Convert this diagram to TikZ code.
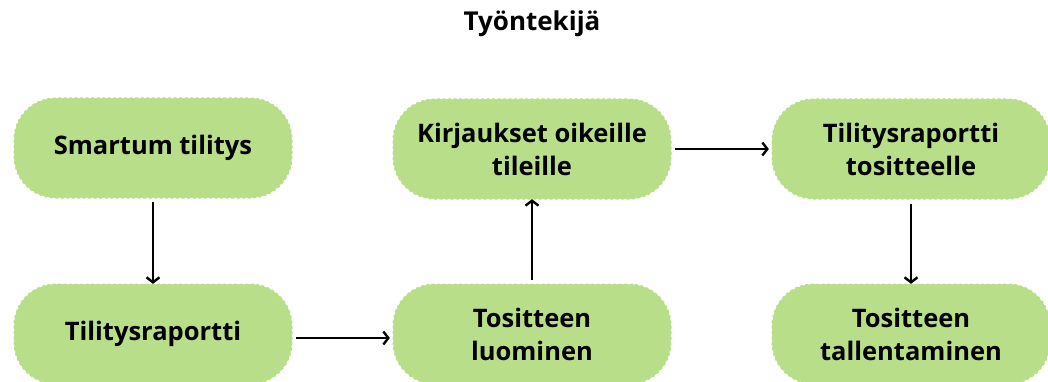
\documentclass[tikz,border=0pt]{standalone}
\usepackage{fontspec}
\setmainfont{Open Sans}
\usetikzlibrary{arrows.meta}
\definecolor{boxgreen}{RGB}{185,222,138}
\begin{document}
\begin{tikzpicture}[x=1pt,y=-1pt,
  stepbox/.style={rectangle, rounded corners=42pt, fill=boxgreen, draw=white, line width=1.3pt,
    dash pattern=on 2.5pt off 3pt, minimum width=279pt, minimum height=101pt,
    align=center, font=\bfseries\fontsize{25.5}{33}\selectfont, text=black, inner sep=0pt},
  conn/.style={-{Straight Barb[length=5pt,width=13pt,line width=2.4pt]}, line width=2.4pt, black}]
\useasboundingbox (0,0) rectangle (1048,382);
\node[font=\bfseries\fontsize{26}{30}\selectfont] (title) at (532,24) {Työntekijä};
\node[stepbox] (a) at (153,148) {Smartum tilitys};
\node[stepbox] (b) at (153,334) {Tilitysraportti};
\node[stepbox] (c) at (532,149) {Kirjaukset oikeille\\tileille};
\node[stepbox] (d) at (532,334) {Tositteen\\luominen};
\node[stepbox] (e) at (911,149) {Tilitysraportti\\tositteelle};
\node[stepbox] (f) at (911,334) {Tositteen\\tallentaminen};
\draw[conn] ([yshift=-3pt]a.south) -- ([yshift=-1pt]b.north);
\draw[conn] ([xshift=3pt,yshift=-4pt]b.east) -- ([xshift=-2pt,yshift=-4pt]d.west);
\draw[conn] ([yshift=3pt]d.north) -- ([yshift=1pt]c.south);
\draw[conn] ([xshift=3pt]c.east) -- ([xshift=-2pt]e.west);
\draw[conn] ([yshift=-4pt]e.south) -- ([yshift=-1pt]f.north);
\end{tikzpicture}
\end{document}
